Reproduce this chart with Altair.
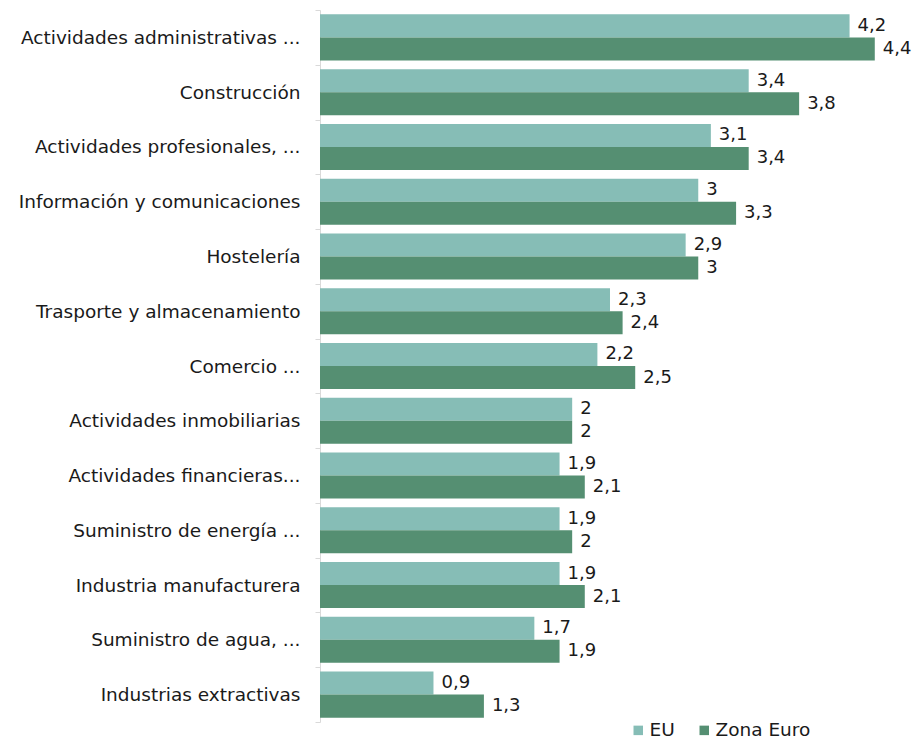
import altair as alt
import pandas as pd

categories = [
    "Actividades administrativas ...",
    "Construcción",
    "Actividades profesionales, ...",
    "Información y comunicaciones",
    "Hostelería",
    "Trasporte y almacenamiento",
    "Comercio ...",
    "Actividades inmobiliarias",
    "Actividades financieras...",
    "Suministro de energía ...",
    "Industria manufacturera",
    "Suministro de agua, ...",
    "Industrias extractivas",
]
series = ["EU", "Zona Euro"]
eu_values = [4.2, 3.4, 3.1, 3.0, 2.9, 2.3, 2.2, 2.0, 1.9, 1.9, 1.9, 1.7, 0.9]
euro_values = [4.4, 3.8, 3.4, 3.3, 3.0, 2.4, 2.5, 2.0, 2.1, 2.0, 2.1, 1.9, 1.3]
colors = ["#86BDB6", "#558F72"]

rows = []
for c, a, b in zip(categories, eu_values, euro_values):
    rows.append({"cat": c, "series": series[0], "value": a})
    rows.append({"cat": c, "series": series[1], "value": b})
df = pd.DataFrame(rows)

FONT = "DejaVu Sans"
FS = 18.5

y_enc = alt.Y(
    "cat:N",
    sort=categories,
    title=None,
    scale=alt.Scale(paddingInner=0, paddingOuter=0),
    axis=alt.Axis(
        tickBand="extent",
        tickSize=5,
        tickColor="#d9d9d9",
        domainColor="#d9d9d9",
        labelFont=FONT,
        labelFontSize=FS,
        labelColor="#1a1a1a",
        labelPadding=15,
        labelLimit=400,
    ),
)
x_enc = alt.X(
    "value:Q",
    axis=None,
    scale=alt.Scale(domain=[0, 4.6], nice=False),
)
yoff = alt.YOffset(
    "series:N",
    sort=series,
    scale=alt.Scale(paddingOuter=0.19, paddingInner=0),
)

bars = alt.Chart(df).mark_bar().encode(
    y=y_enc,
    x=x_enc,
    yOffset=yoff,
    color=alt.Color(
        "series:N",
        sort=series,
        scale=alt.Scale(domain=series, range=colors),
        legend=alt.Legend(
            title=None,
            orient="none",
            direction="horizontal",
            legendX=309,
            legendY=711,
            symbolType="square",
            symbolSize=90,
            symbolStrokeWidth=0,
            labelFont=FONT,
            labelFontSize=FS,
            labelColor="#1a1a1a",
            labelOffset=2,
            columnPadding=20,
        ),
    ),
)

labels = alt.Chart(df).transform_calculate(
    label="replace(format(datum.value, '.1~f'), '.', ',')"
).mark_text(
    align="left", baseline="middle", dx=8, font=FONT, fontSize=18, color="#1a1a1a"
).encode(
    y=alt.Y("cat:N", sort=categories),
    x=alt.X("value:Q"),
    yOffset=alt.YOffset("series:N", sort=series),
    text="label:N",
)

chart = (
    alt.layer(bars, labels)
    .properties(
        width=580,
        height=712,
        autosize=alt.AutoSizeParams(type="none"),
        padding={"left": 312, "top": 2, "right": 12, "bottom": 23},
    )
    .configure_view(stroke=None)
)

chart.save("out.html", embed_options={"renderer": "svg", "actions": False})
